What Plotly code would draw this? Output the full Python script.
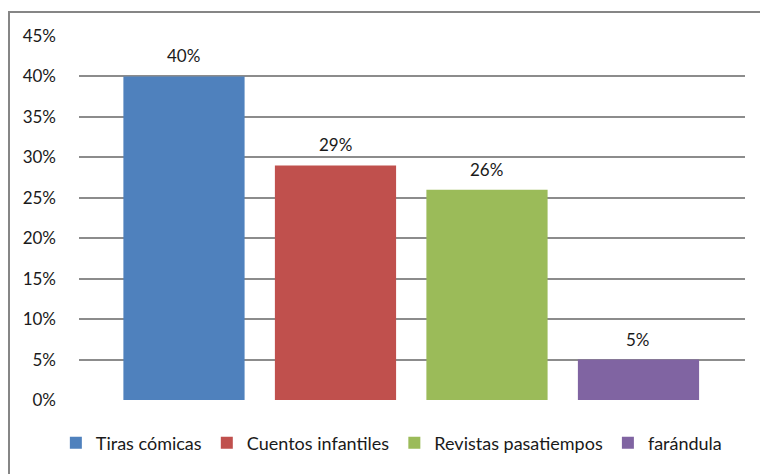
import plotly.graph_objects as go

series = ["Tiras cómicas", "Cuentos infantiles", "Revistas pasatiempos", "farándula"]
values = [0.40, 0.29, 0.26, 0.05]
labels = ["40%", "29%", "26%", "5%"]
colors = ["#4F81BD", "#C0504D", "#9BBB59", "#8064A2"]

FONT = "Lato"
TXT = "#1a1a1a"
fig = go.Figure()
for s, v, c in zip(series, values, colors):
    fig.add_trace(go.Bar(x=[s], y=[v], name=s, marker=dict(color=c, line=dict(width=0)),
                         width=0.8, hoverinfo="skip"))

for s, v, t in zip(series, values, labels):
    fig.add_annotation(x=s, y=v, text=t, showarrow=False, yanchor="bottom", yshift=8,
                       font=dict(family=FONT, size=17, color=TXT))

fig.update_layout(
    width=760, height=474,
    margin=dict(l=79, r=15, t=36, b=74),
    paper_bgcolor="white", plot_bgcolor="white",
    barmode="overlay",
    showlegend=True,
    legend=dict(orientation="h", x=0.469, xanchor="center", y=-0.118, yanchor="middle",
                font=dict(family=FONT, size=18, color=TXT), itemwidth=30,
                traceorder="normal"),
    font=dict(family=FONT, size=17, color=TXT),
    xaxis=dict(type="category", range=[-0.693, 3.703], showticklabels=False,
               showgrid=False, zeroline=False, showline=False, fixedrange=True),
    yaxis=dict(range=[0, 0.45], dtick=0.05, tickformat=".0%", showgrid=True,
               gridcolor="#8C8C8C", gridwidth=1.5, zeroline=False, showline=False,
               ticklabelstandoff=22, tickfont=dict(family=FONT, size=17, color=TXT)),
    shapes=[dict(type="rect", xref="paper", yref="paper",
                 x0=(9 - 79) / 666, x1=(775 - 79) / 666,
                 y0=(400 - 490) / 364, y1=(400 - 12) / 364,
                 line=dict(color="#868686", width=2), fillcolor="rgba(0,0,0,0)", layer="below")],
)

fig.write_html("out.html")
